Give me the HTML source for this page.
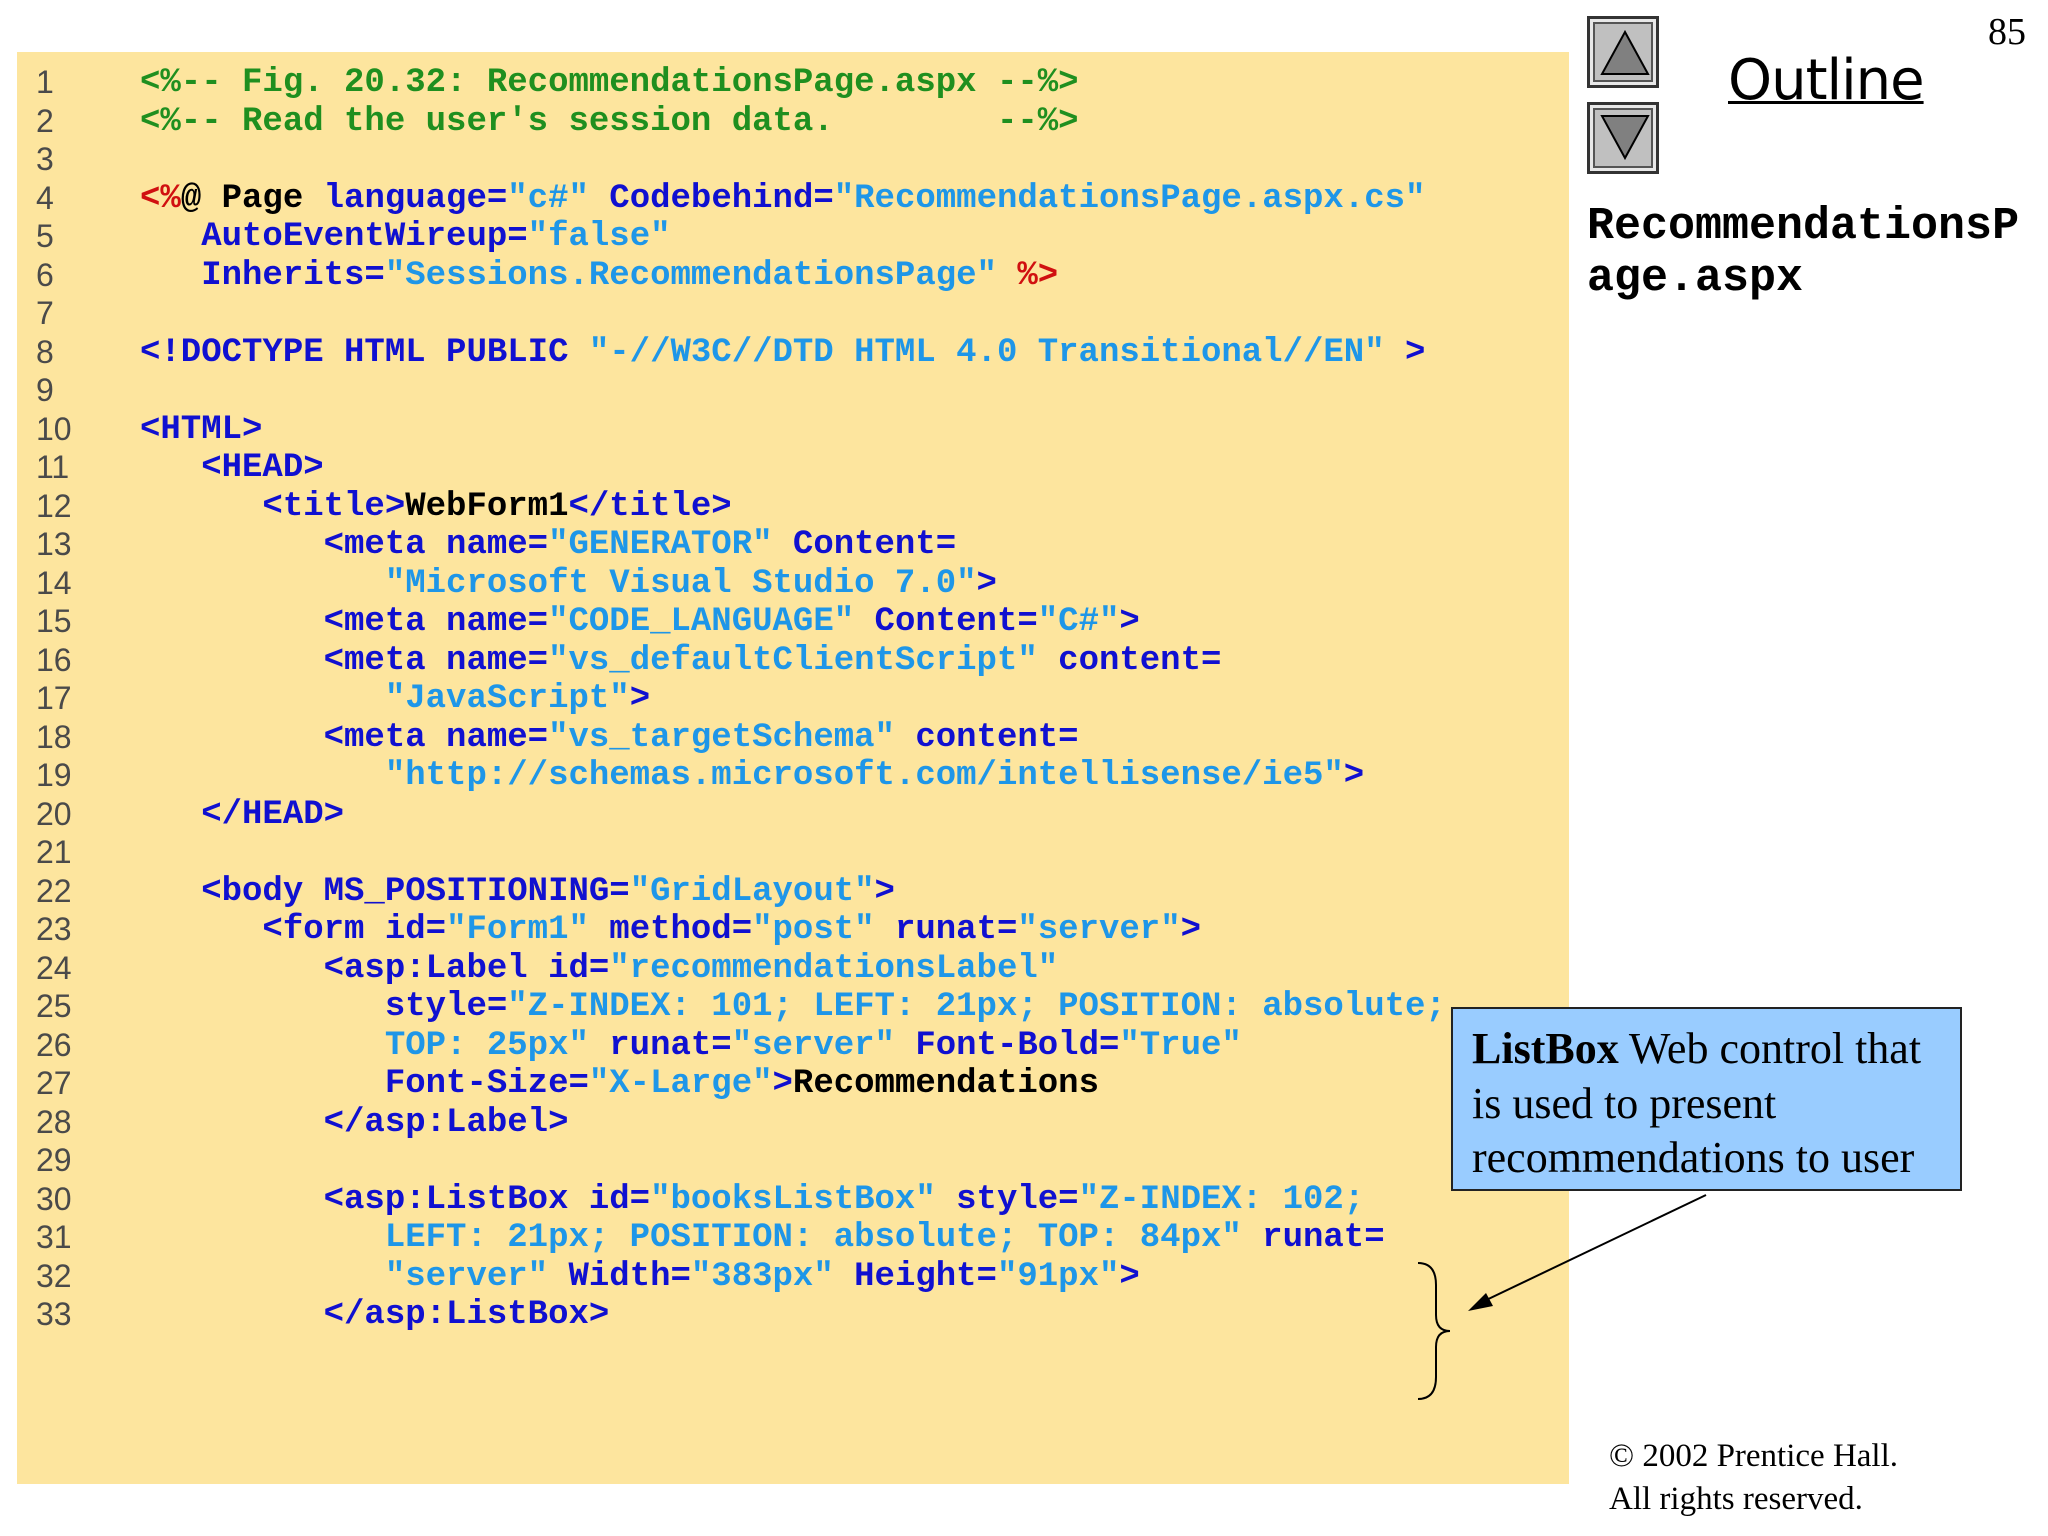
<!DOCTYPE html>
<html><head><meta charset="utf-8"><style>
body{margin:0;width:2048px;height:1536px;background:#fff;position:relative;overflow:hidden}
#box{position:absolute;left:17px;top:52px;width:1552px;height:1432px;background:#fde59e}
pre{position:absolute;margin:0;font-family:"Liberation Mono",monospace;font-weight:bold;font-size:34px;line-height:38.5px;white-space:pre}
#nums{position:absolute;left:36px;top:63px;font-family:"Liberation Sans",sans-serif;font-size:32px;line-height:38.5px;color:#4a4a4a;white-space:pre}
.c{color:#1f8f1f}.k{color:#1010d0}.s{color:#1e96e8}.r{color:#d01010}.b{color:#000}
.btn{position:absolute;left:1587px;width:66px;height:66px;background:#c0c0c0;border:3px solid #333;box-shadow:inset 0 0 0 3px #e8e8e8,inset 0 0 0 5px #555}
</style></head><body>
<div id="box"></div>
<div id="nums">1
2
3
4
5
6
7
8
9
10
11
12
13
14
15
16
17
18
19
20
21
22
23
24
25
26
27
28
29
30
31
32
33</div>
<pre style="left:140px;top:64px"><span class="c">&lt;%-- Fig. 20.32: RecommendationsPage.aspx --%&gt;</span>
<span class="c">&lt;%-- Read the user's session data.        --%&gt;</span>

<span class="r">&lt;%</span><span class="b">@ Page</span><span class="k"> language=</span><span class="s">"c#"</span><span class="k"> Codebehind=</span><span class="s">"RecommendationsPage.aspx.cs"</span>
<span class="k">   AutoEventWireup=</span><span class="s">"false"</span>
<span class="k">   Inherits=</span><span class="s">"Sessions.RecommendationsPage"</span> <span class="r">%&gt;</span>

<span class="k">&lt;!DOCTYPE HTML PUBLIC </span><span class="s">"-//W3C//DTD HTML 4.0 Transitional//EN"</span><span class="k"> &gt;</span>

<span class="k">&lt;HTML&gt;</span>
<span class="k">   &lt;HEAD&gt;</span>
<span class="k">      &lt;title&gt;</span><span class="b">WebForm1</span><span class="k">&lt;/title&gt;</span>
<span class="k">         &lt;meta name=</span><span class="s">"GENERATOR"</span><span class="k"> Content=</span>
<span class="s">            "Microsoft Visual Studio 7.0"</span><span class="k">&gt;</span>
<span class="k">         &lt;meta name=</span><span class="s">"CODE_LANGUAGE"</span><span class="k"> Content=</span><span class="s">"C#"</span><span class="k">&gt;</span>
<span class="k">         &lt;meta name=</span><span class="s">"vs_defaultClientScript"</span><span class="k"> content=</span>
<span class="s">            "JavaScript"</span><span class="k">&gt;</span>
<span class="k">         &lt;meta name=</span><span class="s">"vs_targetSchema"</span><span class="k"> content=</span>
<span class="s">            "http://schemas.microsoft.com/intellisense/ie5"</span><span class="k">&gt;</span>
<span class="k">   &lt;/HEAD&gt;</span>

<span class="k">   &lt;body MS_POSITIONING=</span><span class="s">"GridLayout"</span><span class="k">&gt;</span>
<span class="k">      &lt;form id=</span><span class="s">"Form1"</span><span class="k"> method=</span><span class="s">"post"</span><span class="k"> runat=</span><span class="s">"server"</span><span class="k">&gt;</span>
<span class="k">         &lt;asp:Label id=</span><span class="s">"recommendationsLabel"</span>
<span class="k">            style=</span><span class="s">"Z-INDEX: 101; LEFT: 21px; POSITION: absolute;</span>
<span class="s">            TOP: 25px"</span><span class="k"> runat=</span><span class="s">"server"</span><span class="k"> Font-Bold=</span><span class="s">"True"</span>
<span class="k">            Font-Size=</span><span class="s">"X-Large"</span><span class="k">&gt;</span><span class="b">Recommendations</span>
<span class="k">         &lt;/asp:Label&gt;</span>

<span class="k">         &lt;asp:ListBox id=</span><span class="s">"booksListBox"</span><span class="k"> style=</span><span class="s">"Z-INDEX: 102;</span>
<span class="s">            LEFT: 21px; POSITION: absolute; TOP: 84px"</span><span class="k"> runat=</span>
<span class="s">            "server"</span><span class="k"> Width=</span><span class="s">"383px"</span><span class="k"> Height=</span><span class="s">"91px"</span><span class="k">&gt;</span>
<span class="k">         &lt;/asp:ListBox&gt;</span></pre>

<div class="btn" style="top:16px"></div>
<div class="btn" style="top:102px"></div>
<svg style="position:absolute;left:0;top:0" width="2048" height="1536">
<polygon points="1625,32 1602,74 1648,74" fill="#808080" stroke="#000" stroke-width="2"/>
<polygon points="1602,116 1648,116 1625,158" fill="#808080" stroke="#000" stroke-width="2"/>
<path d="M1418,1263 Q1436,1263 1436,1285 L1436,1315 Q1436,1331 1450,1331 Q1436,1331 1436,1347 L1436,1377 Q1436,1399 1418,1399" fill="none" stroke="#000" stroke-width="2"/>
<line x1="1706" y1="1195" x2="1480" y2="1303" stroke="#000" stroke-width="2"/>
<polygon points="1468,1311 1486,1293 1493,1306" fill="#000"/>
</svg>
<div style="position:absolute;left:1988px;top:10px;font-family:'Liberation Serif',serif;font-size:38px">85</div>
<div style="position:absolute;left:1728px;top:48px;font-family:'DejaVu Sans','Liberation Sans',sans-serif;font-size:56px;text-decoration:underline;text-decoration-thickness:3px;letter-spacing:-1px">Outline</div>
<div style="position:absolute;left:1587px;top:201px;font-family:'Liberation Mono',monospace;font-weight:bold;font-size:45px;line-height:52px">RecommendationsP<br>age.aspx</div>
<div style="position:absolute;left:1451px;top:1007px;width:507px;height:180px;background:#99ccff;border:2px solid #222;box-sizing:content-box"></div>
<div style="position:absolute;left:1472px;top:1022px;font-family:'Liberation Serif',serif;font-size:44px;line-height:54.5px;white-space:nowrap"><b>ListBox</b> Web control that<br>is used to present<br>recommendations to user</div>
<div style="position:absolute;left:1609px;top:1435px;font-family:'Liberation Serif',serif;font-size:33px;line-height:43px;white-space:nowrap">© 2002 Prentice Hall.<br>All rights reserved.</div>
</body></html>
